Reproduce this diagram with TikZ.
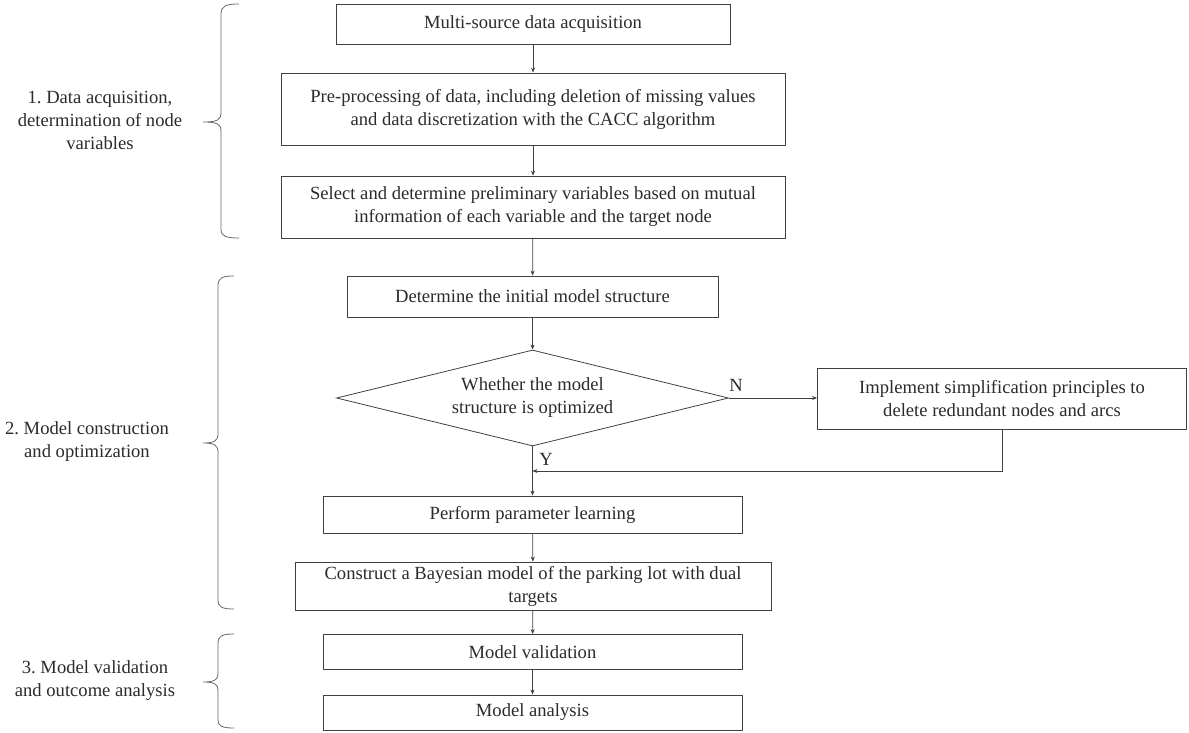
\documentclass[tikz,border=0pt]{standalone}
\usepackage{fontspec}
\setmainfont{Liberation Serif}
\usetikzlibrary{shapes.geometric,arrows.meta}
\definecolor{ink}{HTML}{2B2B2B}
\definecolor{linec}{HTML}{404040}
\tikzset{
  box/.style={draw=linec, line width=0.8pt, rectangle, inner sep=2pt, align=center, text=ink},
  decide/.style={draw=linec, line width=0.8pt, diamond, aspect=4, inner sep=0pt, align=center, text=ink,
                 minimum width=392pt, minimum height=96pt},
  arr/.style={draw=linec, line width=0.7pt, -{Stealth[length=5pt,width=4pt]}},
  bracec/.style={draw=linec!80, line width=0.8pt},
  phase/.style={align=center, text=ink},
  yn/.style={text=ink, inner sep=0pt}
}
\frenchspacing
\begin{document}
\begin{tikzpicture}[x=1pt,y=-1pt,font=\fontsize{18.6}{23}\selectfont]
\useasboundingbox (0,0) rectangle (1189,733);

% main column
\node[box, minimum width=394pt, minimum height=40pt] (b1) at (533,24) {Multi-source data acquisition};
\node[box, minimum width=504pt, minimum height=72pt] (b2) at (533,109)
  {Pre-processing of data, including deletion of missing values\\and data discretization with the CACC algorithm};
\node[box, minimum width=504pt, minimum height=62pt] (b3) at (533,207)
  {Select and determine preliminary variables based on mutual\\information of each variable and the target node};
\node[box, minimum width=371pt, minimum height=41pt] (b4) at (532.5,296.5) {Determine the initial model structure};
\node[decide] (dec) at (532.5,398) {Whether the model\\structure is optimized};
\node[box, minimum width=369pt, minimum height=61pt] (b5) at (1002,399)
  {Implement simplification principles to\\delete redundant nodes and arcs};
\node[box, minimum width=419pt, minimum height=37pt] (b6) at (532.5,514.5) {Perform parameter learning};
\node[box, minimum width=476pt, minimum height=48pt] (b7) at (533,586)
  {Construct a Bayesian model of the parking lot with dual\\targets};
\node[box, minimum width=419pt, minimum height=35pt] (b8) at (532.5,652) {Model validation};
\node[box, minimum width=419pt, minimum height=35pt] (b9) at (532.5,712.5) {Model analysis};

\coordinate (merge) at (532.5,471);

% connectors
\draw[arr] (b1) -- (b2);
\draw[arr] (b2) -- (b3);
\draw[arr] (b3) -- (b4);
\draw[arr] (b4) -- (dec);
\draw[arr] (dec.south) -- (b6.north);
\draw[arr] (dec.east) -- (b5.west |- dec.east);
\draw[arr] (b5.south) |- (merge);
\draw[arr] (b6) -- (b7);
\draw[arr] (b7) -- (b8);
\draw[arr] (b8) -- (b9);

\node[yn] (nlab) at (736,385) {N};
\node[yn] (ylab) at (546,459) {Y};

% phase braces
\draw[bracec] (239,4) .. controls (226,4) and (221,6) .. (221,14) -- (221,113)
  .. controls (221,120) and (217,122) .. (203,122)
  .. controls (217,122) and (221,124) .. (221,131) -- (221,230)
  .. controls (221,236) and (226,238) .. (239,238);
\draw[bracec] (234,276) .. controls (222,276) and (218,278) .. (218,286) -- (218,434)
  .. controls (218,441) and (214,443) .. (203,443)
  .. controls (214,443) and (218,445) .. (218,452) -- (218,600)
  .. controls (218,607) and (222,609) .. (234,609);
\draw[bracec] (234,634) .. controls (222,634) and (218,636) .. (218,643) -- (218,674)
  .. controls (218,680) and (214,682) .. (203,682)
  .. controls (214,682) and (218,684) .. (218,690) -- (218,720)
  .. controls (218,726) and (222,728) .. (234,728);

\node[phase] (p1) at (100,120) {1. Data acquisition,\\determination of node\\variables};
\node[phase] (p2) at (87,442) {2. Model construction\\and optimization};
\node[phase] (p3) at (95,681) {3. Model validation\\and outcome analysis};
\end{tikzpicture}
\end{document}
